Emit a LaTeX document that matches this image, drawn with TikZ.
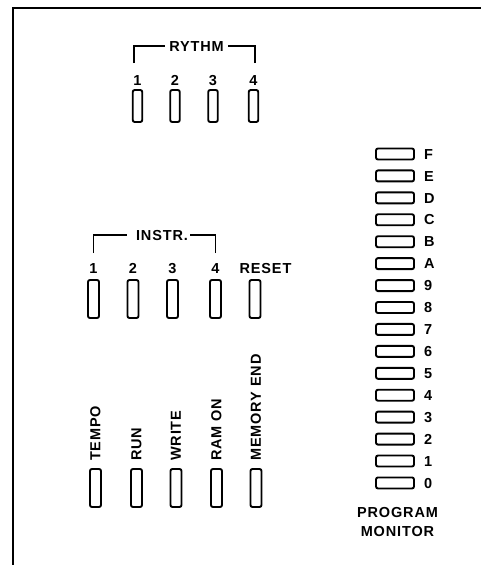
\documentclass[tikz,border=0pt]{standalone}
\usepackage{fontspec}
\setmainfont{Liberation Sans}[LetterSpace=6]
\begin{document}
\begin{tikzpicture}[x=1pt,y=-1pt,
  lbl/.style={font=\bfseries\fontsize{14.5}{15}\selectfont, inner sep=1pt},
  tallbtn/.style={draw, line width=1.9pt, rounded corners=2pt, minimum width=9.5pt, minimum height=32pt, inner sep=0pt},
  bigbtn/.style={draw, line width=1.9pt, rounded corners=2pt, minimum width=11pt, minimum height=38pt, inner sep=0pt},
  widebtn/.style={draw, line width=1.9pt, rounded corners=2pt, minimum width=38pt, minimum height=11pt, inner sep=0pt},
  brk/.style={line width=1.7pt},
  frame/.style={line width=2.8pt}]
\useasboundingbox (0,0) rectangle (481,565);
% frame
\coordinate (ftr) at (481,8);
\coordinate (ftl) at (13,8);
\coordinate (fbl) at (13,565);
\draw[frame] (ftr) -- (ftl) -- (fbl);

% RYTHM group
\node[lbl, anchor=base] (rythm) at (196.5,51.2) {RYTHM};
\coordinate (rbl) at (134,63);
\coordinate (rbr) at (255,63);
\draw[brk] (rbl) |- ([xshift=-3pt]rythm.west);
\draw[brk] (rbr) |- ([xshift=3pt]rythm.east);
\foreach \n/\x in {1/137.5,2/175,3/213,4/253.5}{
  \node[lbl, anchor=base] (rn\n) at (\x,85.2) {\n};
  \node[tallbtn] (r\n) at (\x,106) {};
}

% INSTR group
\node[lbl, anchor=base] (instr) at (162,240.2) {INSTR.};
\coordinate (ibl) at (93.5,253);
\coordinate (ibr) at (215.5,253);
\draw[brk] (ibl) |- ([xshift=-8pt]instr.west);
\draw[brk] (ibr) |- ([xshift=1pt]instr.east);
\foreach \n/\x in {1/93.5,2/133,3/172.5,4/215.5}{
  \node[lbl, anchor=base] (in\n) at (\x,273.2) {\n};
  \node[bigbtn] (i\n) at (\x,299) {};
}
\node[lbl, anchor=base] (reset) at (265.5,273.2) {RESET};
\node[bigbtn] (ireset) at (255,299) {};

% bottom row
\foreach \n/\x/\t in {1/95.5/TEMPO,2/136.5/RUN,3/176/WRITE,4/216.5/RAM ON,5/256/MEMORY END}{
  \node[lbl, rotate=90, anchor=west] (bl\n) at (\x,462) {\t};
  \node[bigbtn] (b\n) at (\x,488) {};
}

% program monitor
\foreach \t [count=\i from 0] in {F,E,D,C,B,A,9,8,7,6,5,4,3,2,1,0}{
  \node[widebtn] (m\i) at (395,154+21.93*\i) {};
  \node[lbl, anchor=base west] (ml\i) at (423,159.2+21.93*\i) {\t};
}
\node[lbl, align=center, font=\bfseries\fontsize{14.5}{19}\selectfont] (pm) at (397.5,522.5) {PROGRAM\\MONITOR};
\end{tikzpicture}
\end{document}
